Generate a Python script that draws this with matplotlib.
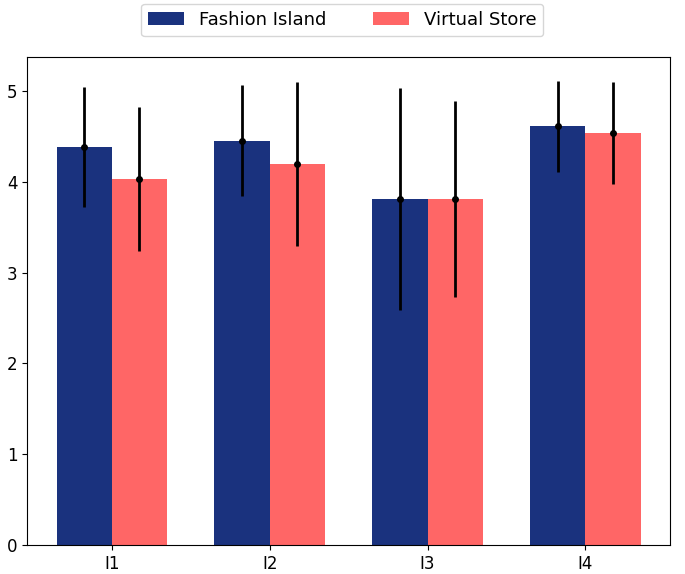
import numpy as np
import matplotlib
matplotlib.use("Agg")
import matplotlib.pyplot as plt

items = ["I1", "I2", "I3", "I4"]
fashion_mean = [4.38, 4.45, 3.81, 4.61]
fashion_sd = [0.66, 0.61, 1.22, 0.50]
virtual_mean = [4.03, 4.19, 3.81, 4.53]
virtual_sd = [0.79, 0.90, 1.08, 0.56]

x = np.arange(len(items))
w = 0.35

fig, ax = plt.subplots(figsize=(6.85, 5.74), dpi=100)
fig.subplots_adjust(left=0.04, right=0.978, bottom=0.05, top=0.9)

ax.bar(x - w / 2, fashion_mean, w, color="#1a327e", label="Fashion Island")
ax.bar(x + w / 2, virtual_mean, w, color="#ff6666", label="Virtual Store")
ax.errorbar(x - w / 2, fashion_mean, yerr=fashion_sd, fmt="o", color="black",
            ms=4, elinewidth=2, capsize=0)
ax.errorbar(x + w / 2, virtual_mean, yerr=virtual_sd, fmt="o", color="black",
            ms=4, elinewidth=2, capsize=0)

ax.set_xticks(x)
ax.set_xticklabels(items)
ax.tick_params(labelsize=12)
ax.legend(loc="upper center", bbox_to_anchor=(0.49, 1.11), ncol=2,
          fontsize=13, columnspacing=2.6, borderaxespad=0)

fig.savefig("out.png")
